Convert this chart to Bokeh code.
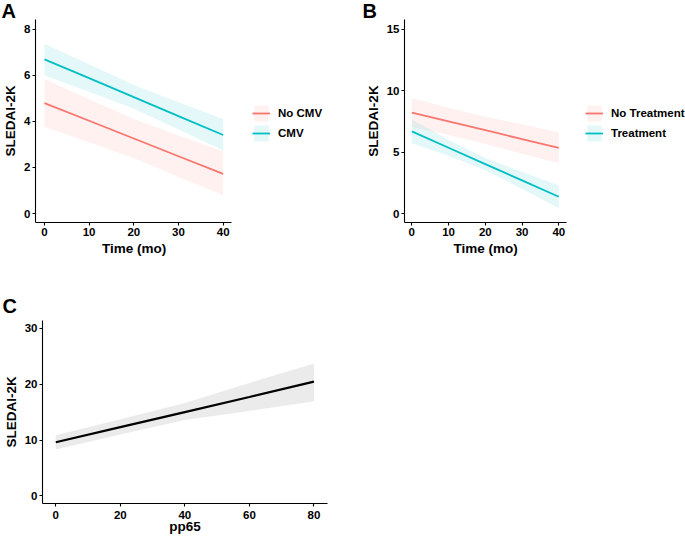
from bokeh.plotting import figure
from bokeh.models import Range1d, FixedTicker, Legend, LegendItem, Title
from bokeh.layouts import column, row
from bokeh.embed import file_html
from bokeh.resources import INLINE

# ---- data ----
time_mo = [0, 10, 20, 30, 40]
a_nocmv_fit = [4.80, 4.03, 3.26, 2.49, 1.72]
a_nocmv_lo = [3.76, 3.10, 2.41, 1.59, 0.80]
a_nocmv_hi = [5.84, 4.97, 4.11, 3.39, 2.71]
a_cmv_fit = [6.70, 5.88, 5.06, 4.23, 3.41]
a_cmv_lo = [6.00, 5.29, 4.55, 3.65, 2.74]
a_cmv_hi = [7.38, 6.49, 5.58, 4.83, 4.11]

b_notx_fit = [8.24, 7.52, 6.80, 6.08, 5.36]
b_notx_lo = [7.06, 6.42, 5.70, 4.88, 4.11]
b_notx_hi = [9.42, 8.62, 7.90, 7.28, 6.61]
b_tx_fit = [6.71, 5.38, 4.05, 2.72, 1.39]
b_tx_lo = [5.75, 4.73, 3.55, 2.02, 0.46]
b_tx_hi = [7.67, 6.03, 4.55, 3.42, 2.32]

pp65 = [0, 20, 40, 60, 80]
c_fit = [9.60, 12.30, 15.00, 17.70, 20.43]
c_lo = [8.30, 11.00, 13.60, 15.20, 16.95]
c_hi = [10.85, 13.70, 16.60, 20.20, 23.70]

a_labels = ["No CMV", "CMV"]
b_labels = ["No Treatment", "Treatment"]
a_xticks = [0, 10, 20, 30, 40]
a_yticks = [0, 2, 4, 6, 8]
b_yticks = [0, 5, 10, 15]
c_xticks = [0, 20, 40, 60, 80]
c_yticks = [0, 10, 20, 30]

RED = "#F8766D"
CYAN = "#00BFC4"
FONT = "Liberation Sans"


def style(p, xticks, yticks, xlabel, ylabel):
    p.xgrid.visible = False
    p.ygrid.visible = False
    p.outline_line_color = None
    p.background_fill_color = "white"
    p.border_fill_color = "white"
    p.xaxis.ticker = FixedTicker(ticks=xticks)
    p.yaxis.ticker = FixedTicker(ticks=yticks)
    p.xaxis.axis_label = xlabel
    p.yaxis.axis_label = ylabel
    for ax in (p.xaxis, p.yaxis):
        ax.axis_line_color = "black"
        ax.axis_line_width = 1.1
        ax.major_tick_line_color = "black"
        ax.major_tick_line_width = 1.1
        ax.major_tick_out = 3
        ax.major_tick_in = 0
        ax.minor_tick_out = 0
        ax.minor_tick_in = 0
        ax.major_label_text_font = FONT
        ax.major_label_text_font_style = "bold"
        ax.major_label_text_font_size = "11.5px"
        ax.major_label_text_color = "black"
        ax.major_label_standoff = 2
        ax.axis_label_text_font = FONT
        ax.axis_label_text_font_style = "bold"
        ax.axis_label_text_font_size = "13.5px"
        ax.axis_label_text_color = "black"
        ax.axis_label_standoff = 3


def letter(p, txt, offset, standoff):
    p.title.text = txt
    p.title.text_font = FONT
    p.title.text_font_style = "bold"
    p.title.text_font_size = "20px"
    p.title.text_color = "black"
    p.title.align = "left"
    p.title.offset = offset
    p.title.standoff = standoff


def group_panel(width, left, axis_w, xr, yr, x, yticks, series, labels,
                letter_txt, letter_off, leg_gap):
    height = 270
    frame_w = width - left
    x_end = xr[0] + frame_w * (xr[1] - xr[0]) / axis_w   # frame extends right to hold the legend
    p = figure(width=width, height=height, x_range=Range1d(xr[0], x_end), y_range=Range1d(*yr),
               output_backend="svg", toolbar_location=None,
               min_border_left=left, min_border_right=0,
               min_border_top=17, min_border_bottom=48)
    style(p, a_xticks, yticks, None, "SLEDAI-2K")
    p.xaxis.bounds = xr
    # x-axis title centred under the axis line (not under the legend area)
    p.add_layout(Title(text="Time (mo)", align="left", offset=axis_w / 2 - 32,
                       text_font=FONT, text_font_style="bold", text_font_size="13.5px",
                       text_color="black", standoff=0), "below")
    items = []
    for (fit, lo, hi, col), lab in zip(series, labels):
        band = p.varea(x=x, y1=lo, y2=hi, fill_color=col, fill_alpha=0.1)
        ln = p.line(x=x, y=fit, line_color=col, line_width=1.8)
        items.append(LegendItem(label=lab, renderers=[band, ln]))
    leg = Legend(items=items, location=(axis_w + leg_gap, 79), margin=0, padding=0, spacing=0,
                 glyph_width=18, glyph_height=20, label_height=20, label_standoff=8,
                 label_text_font=FONT, label_text_font_style="bold",
                 label_text_font_size="11.5px", label_text_color="black",
                 border_line_color=None, background_fill_alpha=0)
    p.add_layout(leg, "center")
    letter(p, letter_txt, letter_off, -5)
    return p


pa = group_panel(340, 33, 197, (-2.0, 41.8), (-0.39, 8.43), time_mo, a_yticks,
                 [(a_nocmv_fit, a_nocmv_lo, a_nocmv_hi, RED),
                  (a_cmv_fit, a_cmv_lo, a_cmv_hi, CYAN)],
                 a_labels, "A", -34, 20)

pb = group_panel(345, 64, 162, (-1.99, 42.1), (-0.70, 15.80), time_mo, b_yticks,
                 [(b_notx_fit, b_notx_lo, b_notx_hi, RED),
                  (b_tx_fit, b_tx_lo, b_tx_hi, CYAN)],
                 b_labels, "B", -42, 19)

pc = figure(width=340, height=267, x_range=Range1d(-4.11, 84.2), y_range=Range1d(-1.35, 31.37),
            output_backend="svg", toolbar_location=None,
            min_border_left=39, min_border_right=13, min_border_top=50, min_border_bottom=34)
style(pc, c_xticks, c_yticks, "pp65", "SLEDAI-2K")
pc.xaxis.major_label_standoff = 4
pc.xaxis.axis_label_standoff = -3
pc.varea(x=pp65, y1=c_lo, y2=c_hi, fill_color="#999999", fill_alpha=0.2)
pc.line(x=pp65, y=c_fit, line_color="black", line_width=2.2)
letter(pc, "C", -40, 8)

layout = column(row(pa, pb, spacing=0), pc, spacing=0)

with open("out.html", "w") as f:
    f.write(file_html(layout, INLINE))
